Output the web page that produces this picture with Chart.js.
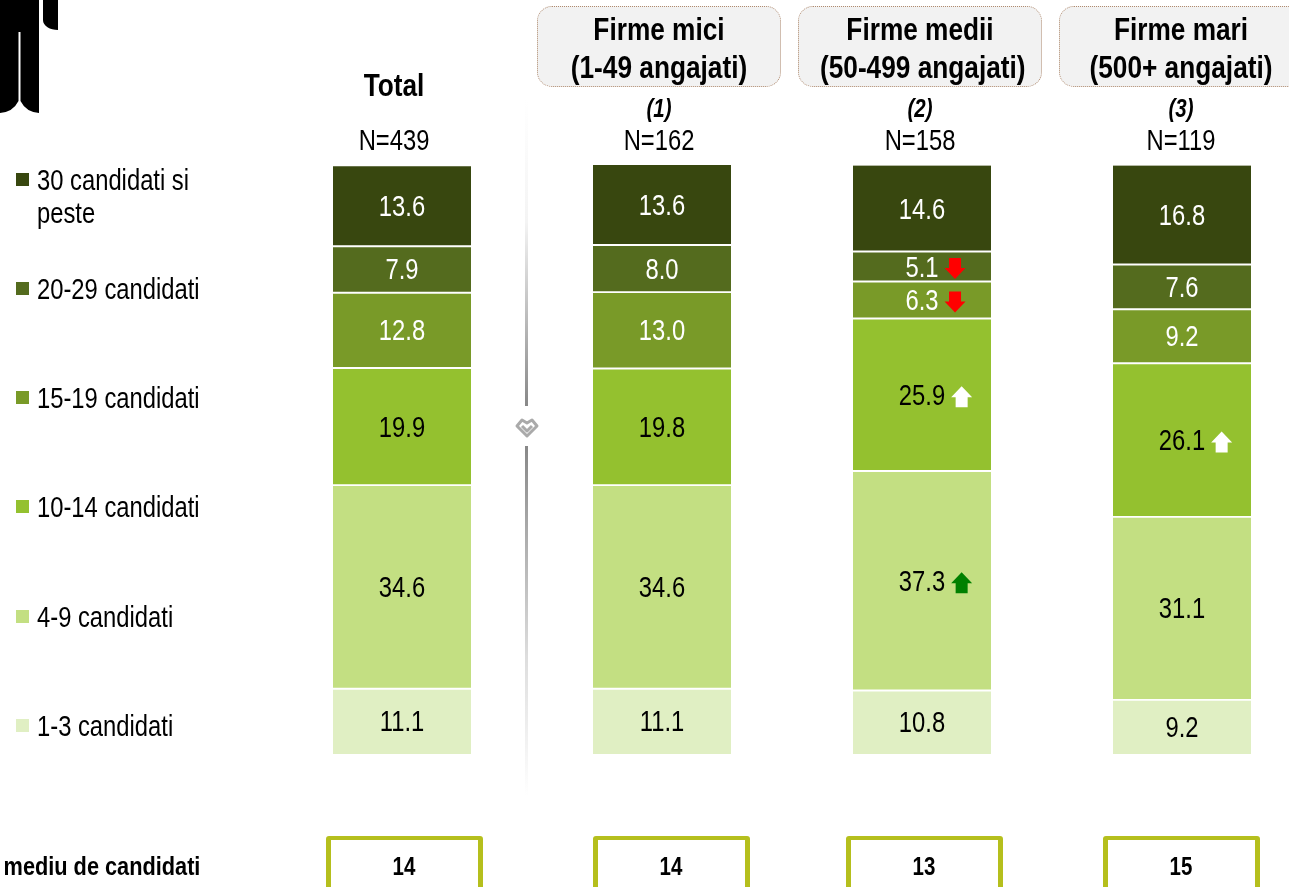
<!DOCTYPE html>
<html>
<head>
<meta charset="utf-8">
<title>Numar mediu de candidati</title>
<script src="https://cdn.jsdelivr.net/npm/chart.js@4"></script>
<style>
html, body { margin: 0; padding: 0; background: #fff; overflow: hidden; }
body { width: 1289px; height: 887px; position: relative; font-family: "Liberation Sans", Arial, sans-serif; color: #000; }
#wrap { position: absolute; left: 0; top: 0; width: 1289px; height: 887px; }
/* Arial Narrow nu exista aici, deci Liberation Sans strans pe orizontala */
.t { position: absolute; white-space: nowrap; transform: translate(-50%, -50%) scaleX(.82); font-size: 29px; line-height: 1; }
.b { font-weight: bold; }
.box { position: absolute; top: 6px; width: 244px; height: 81px; box-sizing: border-box; background: #f2f2f2; border: 1px dotted #b08a6e; border-radius: 15px; }
.head { text-align: center; font-weight: bold; font-size: 32px; line-height: 38px; white-space: nowrap; position: absolute; top: 10px; width: 244px; transform: scaleX(.82); }
.legend { position: absolute; left: 37px; font-size: 29px; line-height: 33px; transform-origin: left center; transform: translateY(-16px) scaleX(.82); white-space: nowrap; }
.sq { position: absolute; left: 16px; width: 13px; height: 13px; }
.mean { position: absolute; top: 836px; width: 157px; height: 70px; box-sizing: border-box; border: solid #b5bf1d; border-width: 4px 5px; border-radius: 3px; }
.div { position: absolute; left: 525px; width: 3px; }
</style>
</head>
<body>
<div id="wrap"><canvas id="stackChart" width="1289" height="887"></canvas></div>

<!-- omuletul taiat din stanga sus -->
<svg style="position:absolute;left:0;top:0" width="60" height="115">
  <path d="M0 0H39V113Q26 112 20.5 101V32H18.5V101Q13 112 0 113Z" fill="#000"/>
  <path d="M43 0H58V30C50 30 43 26 43 20Z" fill="#000"/>
</svg>

<div class="div" style="top:100px;height:306px;background:linear-gradient(#fff,#f4f4f4 40%,#888)"></div>
<div class="div" style="top:446px;height:350px;background:linear-gradient(#888,#ddd 60%,#fff)"></div>
<svg style="position:absolute;left:514px;top:416px" width="26" height="24" fill="none" stroke="#aaa" stroke-width="3" stroke-linejoin="round">
  <path d="M3 10L8 4L13 7L18 4L23 10L13 20Z"/>
  <path d="M8 10L13 15L18 10"/>
</svg>
<script>
"use strict";

const categories = ["Total", "Firme mici", "Firme medii", "Firme mari"];
const seriesNames = ["1-3 candidati", "4-9 candidati", "10-14 candidati", "15-19 candidati", "20-29 candidati", "30 candidati si peste"];
const seriesColors = ["#e0efc3", "#c3df82", "#94c12f", "#799a28", "#546b1e", "#38470f"];
const labelColors = ["#000", "#000", "#000", "#fff", "#fff", "#fff"];

const s1to3 = [11.1, 11.1, 10.8, 9.2];
const s4to9 = [34.6, 34.6, 37.3, 31.1];
const s10to14 = [19.9, 19.8, 25.9, 26.1];
const s15to19 = [12.8, 13.0, 6.3, 9.2];
const s20to29 = [7.9, 8.0, 5.1, 7.6];
const s30plus = [13.6, 13.6, 14.6, 16.8];
const allSeries = [s1to3, s4to9, s10to14, s15to19, s20to29, s30plus];

const sampleSizes = ["N=439", "N=162", "N=158", "N=119"];
const meanValues = ["14", "14", "13", "15"];

// sageti de semnificatie: serie, coloana, directie, culoare
const arrowSeries = [1, 2, 3, 4, 2];
const arrowCols = [2, 2, 2, 2, 3];
const arrowDirs = ["up", "up", "down", "down", "up"];
const arrowColors = ["#008000", "#fff", "#f00", "#f00", "#fff"];

function drawArrow(ctx, x, y, dir, color) {
    // x = marginea din stanga, y = centrul
    const w = 21, h = 21, shaft = 12;
    const s = dir === "up" ? 1 : -1;
    const cx = x + w / 2;
    ctx.save();
    ctx.fillStyle = color;
    ctx.beginPath();
    ctx.moveTo(cx, y - s * h / 2);
    ctx.lineTo(x + w, y + s * 0.5);
    ctx.lineTo(cx + shaft / 2, y + s * 0.5);
    ctx.lineTo(cx + shaft / 2, y + s * h / 2);
    ctx.lineTo(cx - shaft / 2, y + s * h / 2);
    ctx.lineTo(cx - shaft / 2, y + s * 0.5);
    ctx.lineTo(x, y + s * 0.5);
    ctx.closePath();
    ctx.fill();
    ctx.restore();
}

const NARROW = 0.82;

const barLabels = {
    id: "barLabels",
    afterDatasetsDraw(chart) {
        const ctx = chart.ctx;
        ctx.save();
        ctx.font = '29px "Liberation Sans", Arial, sans-serif';
        ctx.textAlign = "center";
        ctx.textBaseline = "middle";
        allSeries.forEach((vals, si) => {
            const bars = chart.getDatasetMeta(si).data;
            vals.forEach((v, ci) => {
                const txt = v.toFixed(1);
                const el = bars[ci];
                const y = (el.y + el.base) / 2 + 2;
                ctx.fillStyle = labelColors[si];
                ctx.save();
                ctx.translate(el.x, y);
                ctx.scale(NARROW, 1);
                ctx.fillText(txt, 0, 0);
                ctx.restore();
                arrowSeries.forEach((as, ai) => {
                    if (as === si && arrowCols[ai] === ci) {
                        const tw = ctx.measureText(txt).width * NARROW;
                        drawArrow(ctx, el.x + tw / 2 + 6, y, arrowDirs[ai], arrowColors[ai]);
                    }
                });
            });
        });
        ctx.restore();
    }
};

new Chart(document.getElementById("stackChart").getContext("2d"), {
    type: "bar",
    data: {
        labels: categories,
        datasets: allSeries.map((vals, i) => ({
            label: seriesNames[i],
            data: vals,
            backgroundColor: seriesColors[i],
            borderColor: "#fff",
            // linia alba sta jumate pe un segment, jumate pe celalalt
            borderWidth: { top: i === allSeries.length - 1 ? 0 : 1.3, bottom: i === 0 ? 0 : 1.3 },
            borderSkipped: false,
            barThickness: 138,
            clip: false
        }))
    },
    options: {
        responsive: false,
        animation: false,
        layout: { padding: { left: 402, right: 107, top: 165, bottom: 133 } },
        plugins: { legend: { display: false }, tooltip: { enabled: false } },
        scales: {
            x: { stacked: true, display: false, offset: false },
            y: { stacked: true, display: false, min: 0, max: 100.1 }
        }
    },
    plugins: [barLabels]
});

// texte din jurul graficului
function addEl(cls, css, text) {
    const d = document.createElement("div");
    d.className = cls;
    d.style.cssText = css;
    if (text) d.textContent = text;
    document.body.appendChild(d);
    return d;
}

const headLines1 = ["Firme mici", "Firme medii", "Firme mari"];
const headLines2 = ["(1-49 angajati)", "(50-499 angajati)", "(500+ angajati)"];
const headNotes = ["(1)", "(2)", "(3)"];
const nCenters = [394, 659, 920, 1181];
const meanLefts = [326, 593, 846, 1103];
const legendYs = [726, 617, 507, 398, 289];

addEl("t b", "left:394px;top:85px;font-size:32px", categories[0]);
sampleSizes.forEach((n, i) => addEl("t", `left:${nCenters[i]}px;top:140px`, n));
headLines1.forEach((line, i) => {
    const cx = nCenters[i + 1];
    addEl("box", `left:${cx - 122}px`);
    const h = addEl("head", `left:${cx - 122}px`);
    h.innerHTML = line + "<br>" + headLines2[i];
    addEl("t b", `left:${cx}px;top:108px;font-size:25px;font-style:italic`, headNotes[i]);
});
legendYs.forEach((y, i) => {
    addEl("sq", `top:${y - 7}px;background:${seriesColors[i]}`);
    addEl("legend", `top:${y}px`, seriesNames[i]);
});
addEl("sq", `top:173px;background:${seriesColors[5]}`);
addEl("legend", "top:180px", "30 candidati si");
addEl("legend", "top:213px", "peste");

addEl("t b", "left:102px;top:866px;font-size:26.5px", "mediu de candidati");
meanValues.forEach((m, i) => {
    addEl("mean", `left:${meanLefts[i]}px`);
    addEl("t b", `left:${meanLefts[i] + 78}px;top:866px;font-size:25px`, m);
});
</script>
</body>
</html>
